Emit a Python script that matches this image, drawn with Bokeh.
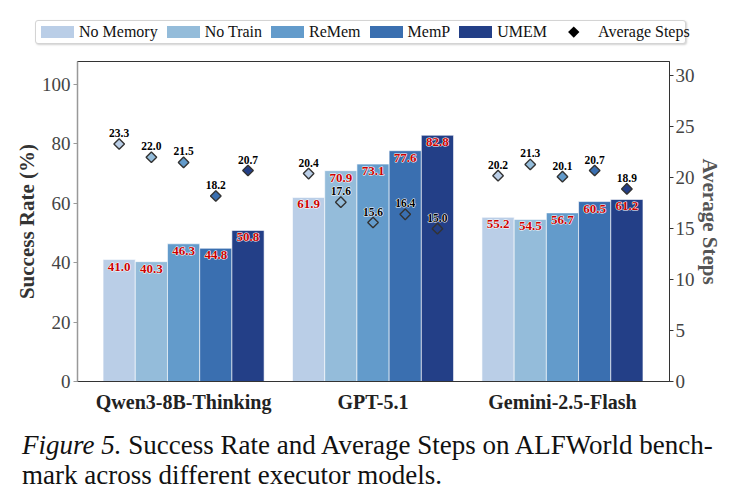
import numpy as np
from bokeh.plotting import figure
from bokeh.models import (ColumnDataSource, Range1d, LinearAxis, FixedTicker, Div)
from bokeh.layouts import column
from bokeh.transform import dodge
from bokeh.core.properties import value
from bokeh.embed import file_html
from bokeh.resources import INLINE

models = ["Qwen3-8B-Thinking", "GPT-5.1", "Gemini-2.5-Flash"]
methods = ["No Memory", "No Train", "ReMem", "MemP", "UMEM"]
colors = ["#bacee7", "#94bcda", "#639bcb", "#3a6fb0", "#233f87"]
success = {
    "No Memory": [41.0, 61.9, 55.2],
    "No Train": [40.3, 70.9, 54.5],
    "ReMem": [46.3, 73.1, 56.7],
    "MemP": [44.8, 77.6, 60.5],
    "UMEM": [50.8, 82.8, 61.2],
}
steps = {
    "No Memory": [23.3, 20.4, 20.2],
    "No Train": [22.0, 17.6, 21.3],
    "ReMem": [21.5, 15.6, 20.1],
    "MemP": [18.2, 16.4, 20.7],
    "UMEM": [20.7, 15.0, 18.9],
}
steps_label = "Average Steps"
left_ticks = [0, 20, 40, 60, 80, 100]
right_ticks = [0, 5, 10, 15, 20, 25, 30]
caption_italic = "Figure 5."
caption_text = "Success Rate and Average Steps on ALFWorld bench-<br>mark across different executor models."

SERIF = "Liberation Serif"
W = 0.17
LEG_H = 56
MAIN_H = 381 - LEG_H + 34
CAP_H = 502 - LEG_H - MAIN_H

# ---------- legend (HTML) ----------
def patch(col):
    return ('<span style="display:inline-block;width:33px;height:12px;background:%s;'
            'margin-right:5px;flex:none;"></span>' % col)

leg_items = []
for m, col in zip(methods, colors):
    leg_items.append('<span style="display:inline-flex;align-items:center;margin-right:9px;">'
                     + patch(col) + '<span>%s</span></span>' % m)
leg_items.append('<span style="display:inline-flex;align-items:center;">'
                 '<span style="display:inline-flex;justify-content:center;align-items:center;'
                 'width:36px;height:14px;margin-right:6px;">'
                 '<span style="display:inline-block;width:7.5px;height:7.5px;background:#000;'
                 'transform:rotate(45deg);"></span></span><span>%s</span></span>' % steps_label)
leg_html = ('<div style="position:relative;width:739px;height:%dpx;">'
            '<div style="position:absolute;left:35px;top:20px;width:651px;height:24px;'
            'border:1px solid #d4d4d4;border-radius:3px;box-shadow:1px 1px 2px rgba(0,0,0,0.18);'
            'background:#fff;font-family:\'Liberation Serif\';font-size:16px;color:#111;'
            'display:flex;align-items:center;padding-left:5px;box-sizing:border-box;'
            'white-space:nowrap;">%s</div></div>' % (LEG_H, "".join(leg_items)))
leg = Div(text=leg_html, width=739, height=LEG_H,
          styles={"margin": "0", "padding": "0", "background": "white"})

# ---------- main plot ----------
p = figure(width=739, height=MAIN_H, output_backend="svg", toolbar_location=None,
           x_range=Range1d(-0.56, 2.565), y_range=Range1d(0, 107.6),
           min_border_left=77, min_border_right=70, min_border_top=5,
           min_border_bottom=34)
p.extra_y_ranges = {"steps": Range1d(0, 31.4)}
p.xgrid.visible = False
p.ygrid.visible = False
p.outline_line_color = "#333333"
p.outline_line_width = 1
p.background_fill_color = "white"
p.border_fill_color = "white"

src = ColumnDataSource(dict(x=list(range(len(models))), **{m: success[m] for m in methods},
                            **{m + "_s": steps[m] for m in methods},
                            **{m + "_lab": ["%.1f" % v for v in success[m]] for m in methods},
                            **{m + "_slab": ["%.1f" % v for v in steps[m]] for m in methods}))

for i, m in enumerate(methods):
    off = (i - 2) * W
    p.vbar(x=dodge("x", off), top=m, width=W, source=src, fill_color=colors[i],
           line_color="white", line_width=0.6)

lab_kw = dict(text_align="center", text_baseline="top", y_offset=3, text_font=value(SERIF),
              text_font_style="bold", text_font_size="13px")
for i, m in enumerate(methods):
    off = (i - 2) * W
    # white halo underneath, red text on top
    p.text(x=dodge("x", off), y=m, text=m + "_lab", source=src, text_color="white",
           text_outline_color="white", **lab_kw)
    p.text(x=dodge("x", off), y=m, text=m + "_lab", source=src, text_color="#cc0000", **lab_kw)

slab_kw = dict(text_align="center", text_baseline="bottom", y_offset=-7, text_font=value(SERIF),
               text_font_style="bold", text_font_size="11.5px", y_range_name="steps")
for i, m in enumerate(methods):
    off = (i - 2) * W
    p.scatter(x=dodge("x", off), y=m + "_s", source=src, marker="square", angle=np.pi / 4,
              size=7.5, fill_color=colors[i], line_color="#333333", line_width=1.4,
              y_range_name="steps")
    p.text(x=dodge("x", off), y=m + "_s", text=m + "_slab", source=src, text_color="white",
           text_outline_color="white", **slab_kw)
    p.text(x=dodge("x", off), y=m + "_s", text=m + "_slab", source=src, text_color="black",
           **slab_kw)

# left axis
ax = p.yaxis[0]
ax.ticker = FixedTicker(ticks=left_ticks)
ax.axis_label = "Success Rate (%)"
ax.axis_label_text_font = SERIF
ax.axis_label_text_font_style = "bold"
ax.axis_label_text_font_size = "21px"
ax.axis_label_text_color = "#333333"
ax.major_label_text_font = SERIF
ax.major_label_text_font_size = "19px"
ax.major_label_text_color = "#444444"
ax.axis_line_color = "#999999"
ax.axis_line_width = 1.5
ax.major_tick_line_color = "#999999"
ax.major_tick_out = 4
ax.major_tick_in = 0
ax.minor_tick_line_color = None
ax.major_label_standoff = 3
ax.axis_label_standoff = 0

# right axis
rax = LinearAxis(y_range_name="steps", ticker=FixedTicker(ticks=right_ticks),
                 axis_label=steps_label)
rax.axis_label_text_font = SERIF
rax.axis_label_text_font_style = "bold"
rax.axis_label_text_font_size = "21px"
rax.axis_label_text_color = "#555555"
rax.major_label_text_font = SERIF
rax.major_label_text_font_size = "19px"
rax.major_label_text_color = "#444444"
rax.axis_line_color = "#333333"
rax.major_tick_line_color = "#333333"
rax.major_tick_out = 4
rax.major_tick_in = 0
rax.minor_tick_line_color = None
rax.major_label_standoff = 2
rax.axis_label_standoff = 0
p.add_layout(rax, "right")

# bottom axis
bx = p.xaxis[0]
bx.ticker = FixedTicker(ticks=list(range(len(models))))
bx.major_label_overrides = {i: m for i, m in enumerate(models)}
bx.major_label_text_font = SERIF
bx.major_label_text_font_style = "bold"
bx.major_label_text_font_size = "20px"
bx.major_label_text_color = "#222222"
bx.axis_line_color = "#333333"
bx.major_tick_line_color = None
bx.minor_tick_line_color = None
bx.major_label_standoff = 3

cap = Div(text="<i>%s</i> %s" % (caption_italic, caption_text), width=739, height=CAP_H,
          styles={"font-family": SERIF, "font-size": "27px", "line-height": "29.5px",
                  "color": "#111111", "padding-left": "22px", "padding-top": "16px",
                  "margin": "0", "box-sizing": "border-box", "background": "white",
                  "white-space": "nowrap"})

open("out.html", "w").write(file_html(column(leg, p, cap, spacing=0), INLINE))
